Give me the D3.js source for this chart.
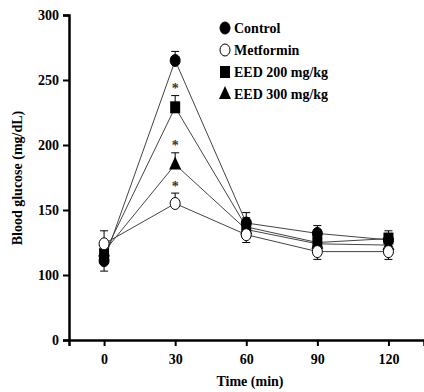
<!DOCTYPE html>
<html>
<head>
<meta charset="utf-8">
<script src="https://cdn.jsdelivr.net/npm/d3@7"></script>
<style>
  body { margin: 0; background: #fff; }
  text { font-family: "Liberation Serif", "DejaVu Serif", serif; font-weight: bold; }
</style>
</head>
<body>
<svg id="chart" width="424" height="392"></svg>
<script>
// data
var times = [0, 30, 60, 90, 120];
var control   = [111, 265, 140, 132, 127];
var controlErr = [8, 7, 8, 6, 5];
var metformin = [124, 155, 131, 118, 118];
var metforminErr = [10, 8, 6, 6, 6];
var eed200    = [116, 229, 137, 125, 128];
var eed200Err = [7, 9, 7, 6, 6];
var eed300    = [118, 185, 135, 124, 123];
var eed300Err = [7, 9, 7, 6, 6];
// which side of the error bar shows: 1 = up, -1 = down
var controlSide   = [-1, 1, 1, 1, 1];
var metforminSide = [1, 1, -1, -1, -1];
var eed200Side    = [1, 1, 1, 1, 1];
var eed300Side    = [1, 1, 1, 1, 1];
var starValues = [246, 202, 171];
var yTicks = [0, 100, 150, 200, 250, 300];

var series = [
  {name: "Control", values: control, err: controlErr, side: controlSide, shape: "circle", fill: "#000"},
  {name: "Metformin", values: metformin, err: metforminErr, side: metforminSide, shape: "circle", fill: "#fff"},
  {name: "EED 200 mg/kg", values: eed200, err: eed200Err, side: eed200Side, shape: "square", fill: "#000"},
  {name: "EED 300 mg/kg", values: eed300, err: eed300Err, side: eed300Side, shape: "triangle", fill: "#000"}
];

var svg = d3.select("#chart");

// broken y scale: 0..100 squeezed, 100..300 linear
var y = d3.scaleLinear().domain([0, 100, 300]).range([340, 275, 15]);
var x = d3.scaleLinear().domain([-14.8, 135]).range([69, 424]);

// axes
var yAxis = svg.append("g").attr("transform", "translate(69,0)")
  .call(d3.axisLeft(y).tickValues(yTicks).tickSize(6).tickPadding(4));
var xAxis = svg.append("g").attr("transform", "translate(0,340)")
  .call(d3.axisBottom(x).tickValues(times).tickSize(6).tickPadding(8));

[yAxis, xAxis].forEach(function(a){
  a.select(".domain").attr("stroke", "#000").attr("stroke-width", 2.5);
  a.selectAll(".tick line").attr("stroke", "#000").attr("stroke-width", 2);
  a.selectAll("text").attr("fill", "#000").style("font-size", "14px")
    .style("font-family", "'Liberation Serif', serif").style("font-weight", "bold");
});

// error bars, one-sided like the original
series.forEach(function(s){
  var g = svg.append("g");
  s.values.forEach(function(v, i){
    var cx = x(times[i]);
    var y1 = y(v), y2 = y(v + s.side[i] * s.err[i]);
    g.append("line").attr("x1", cx).attr("x2", cx).attr("y1", y1).attr("y2", y2)
      .attr("stroke", "#000").attr("stroke-width", 1);
    g.append("line").attr("x1", cx - 4).attr("x2", cx + 4).attr("y1", y2).attr("y2", y2)
      .attr("stroke", "#000").attr("stroke-width", 1);
  });
});

// lines
var line = d3.line().x(function(d, i){ return x(times[i]); }).y(function(d){ return y(d); });
series.forEach(function(s){
  svg.append("path").datum(s.values)
    .attr("d", line)
    .attr("fill", "none")
    .attr("stroke", "#444")
    .attr("stroke-width", 1);
});

function drawMarker(g, shape, fill, cx, cy) {
  if (shape == "circle") {
    g.append("ellipse").attr("cx", cx).attr("cy", cy).attr("rx", 5).attr("ry", 6)
      .attr("fill", fill).attr("stroke", "#000").attr("stroke-width", 1);
  } else if (shape == "square") {
    g.append("rect").attr("x", cx - 5).attr("y", cy - 6).attr("width", 10).attr("height", 12)
      .attr("fill", fill);
  } else {
    g.append("path").attr("d", "M" + cx + "," + (cy - 8) + "L" + (cx + 6) + "," + (cy + 5) + "L" + (cx - 6) + "," + (cy + 5) + "Z")
      .attr("fill", fill);
  }
}

// markers (metformin last so the open circles sit on top)
[0, 2, 3, 1].forEach(function(k){
  var s = series[k];
  var g = svg.append("g");
  s.values.forEach(function(v, i){
    drawMarker(g, s.shape, s.fill, x(times[i]), y(v));
  });
});

// significance stars at t=30
svg.selectAll(".star").data(starValues).enter().append("text")
  .attr("class", "star")
  .attr("x", x(30)).attr("y", function(d){ return y(d) + 8; })
  .attr("text-anchor", "middle")
  .attr("fill", "#333")
  .style("font-size", "14px")
  .text("*");

// legend
var legend = svg.append("g");
series.forEach(function(s, i){
  var ly = 28 + i * 22;
  drawMarker(legend, s.shape, s.fill, 225, ly);
  legend.append("text").attr("x", 234).attr("y", ly + 5)
    .style("font-size", "14px").attr("fill", "#000").text(s.name);
});

// axis titles
svg.append("text").attr("x", 250).attr("y", 386).attr("text-anchor", "middle")
  .style("font-size", "14px").text("Time (min)");
svg.append("text").attr("transform", "translate(22,178) rotate(-90)")
  .attr("text-anchor", "middle").style("font-size", "14px")
  .text("Blood glucose (mg/dL)");
</script>
</body>
</html>
